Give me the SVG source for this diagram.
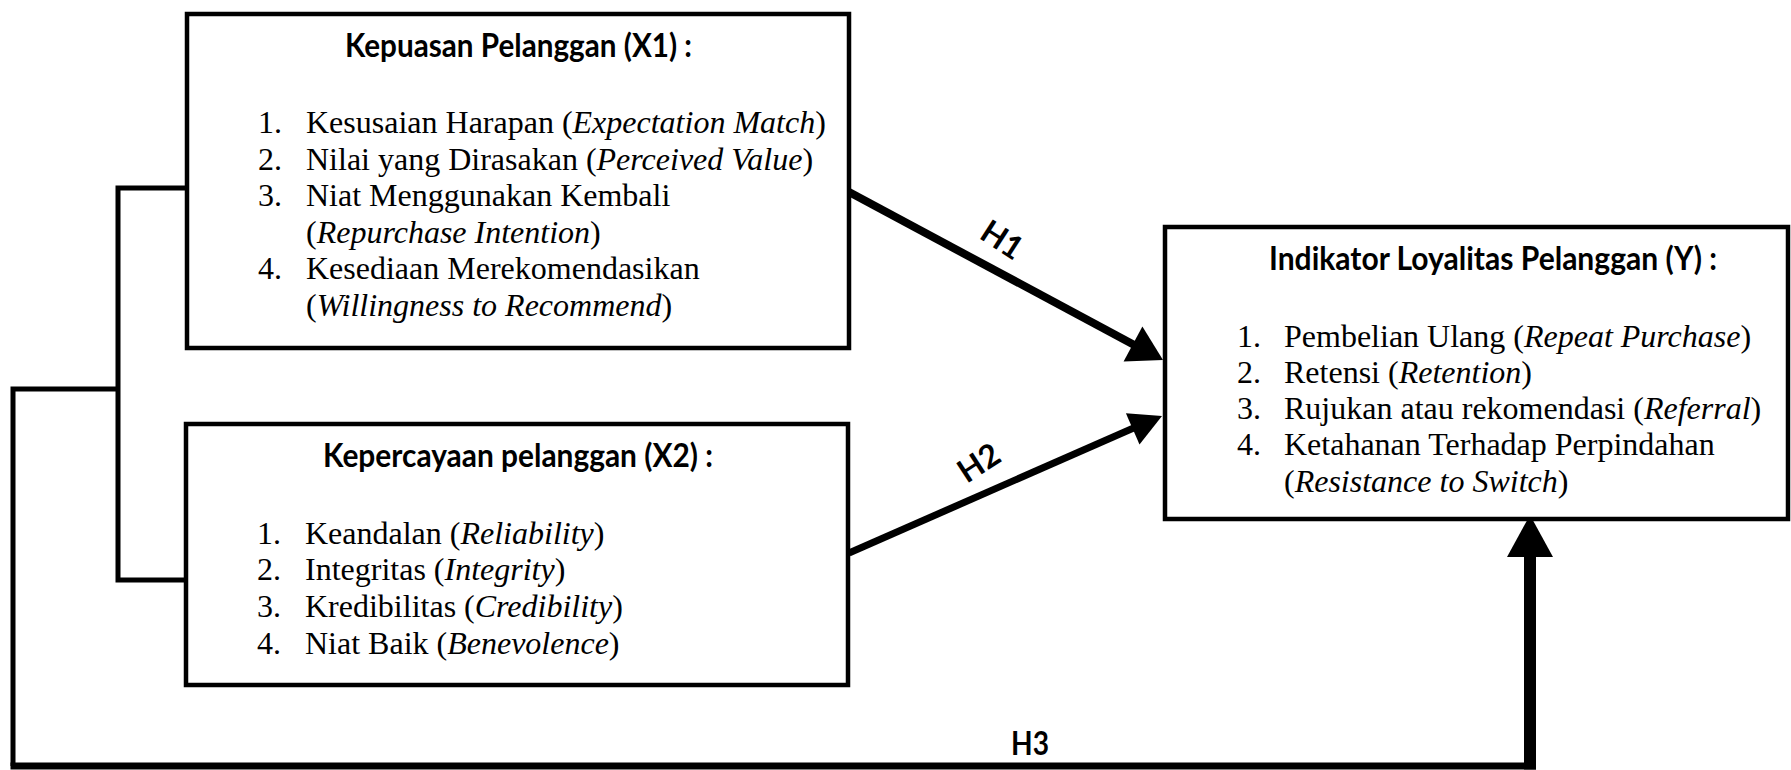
<svg xmlns="http://www.w3.org/2000/svg" width="1791" height="770" viewBox="0 0 1791 770">
<style>
.box{fill:#fff;stroke:#000;stroke-width:4.5}
.title{font-family:Lato,"Liberation Sans",sans-serif;font-weight:bold;font-size:32px;fill:#000}
.item{font-family:"Liberation Serif","Times New Roman",serif;font-size:32px;fill:#000}
.it{font-style:italic}
.conn{fill:none;stroke:#000;stroke-linecap:butt;stroke-linejoin:miter}
.head{fill:#000;stroke:none}
.lbl{font-family:Lato,"Liberation Sans",sans-serif;font-weight:bold;font-size:32px;fill:#000}
</style>
<rect width="1791" height="770" fill="#fff"/>

<g id="connectors">
  <path class="conn" stroke-width="5" d="M187 188 H118 V580 H186"/>
  <path class="conn" stroke-width="5" d="M118 389 H13 V766"/>
  <path class="conn" stroke-width="7" d="M10.5 766 H1536"/>
  <path class="conn" stroke-width="12" d="M1530 769.5 V552"/>
  <polygon class="head" points="1530,515 1507,557 1553,557"/>
  <path class="conn" stroke-width="8" d="M849 192 L1138 347"/>
  <polygon class="head" points="1163,360 1123.6,361.6 1142.4,326.4"/>
  <path class="conn" stroke-width="7" d="M849 553 L1137 426.5"/>
  <polygon class="head" points="1162,416 1139.5,444.4 1125.9,413.2"/>
  <g transform="translate(1002,240) rotate(33)"><text class="lbl" x="0" y="11" text-anchor="middle">H1</text></g>
  <g transform="translate(979,463) rotate(-33)"><text class="lbl" x="0" y="11" text-anchor="middle">H2</text></g>
  <text class="lbl" x="1011" y="755" textLength="38" lengthAdjust="spacingAndGlyphs">H3</text>
</g>

<g id="node-x1">
  <rect class="box" x="187" y="14" width="662" height="334"/>
  <text class="title" x="345" y="57" textLength="347" lengthAdjust="spacingAndGlyphs">Kepuasan Pelanggan (X1) :</text>
  <text class="item" x="258" y="133">1.</text>
  <text class="item" x="306" y="133">Kesusaian Harapan (<tspan class="it">Expectation Match</tspan>)</text>
  <text class="item" x="258" y="170">2.</text>
  <text class="item" x="306" y="170">Nilai yang Dirasakan (<tspan class="it">Perceived Value</tspan>)</text>
  <text class="item" x="258" y="206">3.</text>
  <text class="item" x="306" y="206">Niat Menggunakan Kembali</text>
  <text class="item" x="306" y="243">(<tspan class="it">Repurchase Intention</tspan>)</text>
  <text class="item" x="258" y="279">4.</text>
  <text class="item" x="306" y="279">Kesediaan Merekomendasikan</text>
  <text class="item" x="306" y="316">(<tspan class="it">Willingness to Recommend</tspan>)</text>
</g>

<g id="node-x2">
  <rect class="box" x="186" y="424" width="662" height="261"/>
  <text class="title" x="323" y="467" textLength="390" lengthAdjust="spacingAndGlyphs">Kepercayaan pelanggan (X2) :</text>
  <text class="item" x="257" y="544">1.</text>
  <text class="item" x="305" y="544">Keandalan (<tspan class="it">Reliability</tspan>)</text>
  <text class="item" x="257" y="580">2.</text>
  <text class="item" x="305" y="580">Integritas (<tspan class="it">Integrity</tspan>)</text>
  <text class="item" x="257" y="617">3.</text>
  <text class="item" x="305" y="617">Kredibilitas (<tspan class="it">Credibility</tspan>)</text>
  <text class="item" x="257" y="654">4.</text>
  <text class="item" x="305" y="654">Niat Baik (<tspan class="it">Benevolence</tspan>)</text>
</g>

<g id="node-y">
  <rect class="box" x="1165" y="227" width="623" height="292"/>
  <text class="title" x="1269" y="270" textLength="448" lengthAdjust="spacingAndGlyphs">Indikator Loyalitas Pelanggan (Y) :</text>
  <text class="item" x="1237" y="347">1.</text>
  <text class="item" x="1284" y="347">Pembelian Ulang (<tspan class="it">Repeat Purchase</tspan>)</text>
  <text class="item" x="1237" y="383">2.</text>
  <text class="item" x="1284" y="383">Retensi (<tspan class="it">Retention</tspan>)</text>
  <text class="item" x="1237" y="419">3.</text>
  <text class="item" x="1284" y="419">Rujukan atau rekomendasi (<tspan class="it">Referral</tspan>)</text>
  <text class="item" x="1237" y="455">4.</text>
  <text class="item" x="1284" y="455">Ketahanan Terhadap Perpindahan</text>
  <text class="item" x="1284" y="492">(<tspan class="it">Resistance to Switch</tspan>)</text>
</g>
</svg>
